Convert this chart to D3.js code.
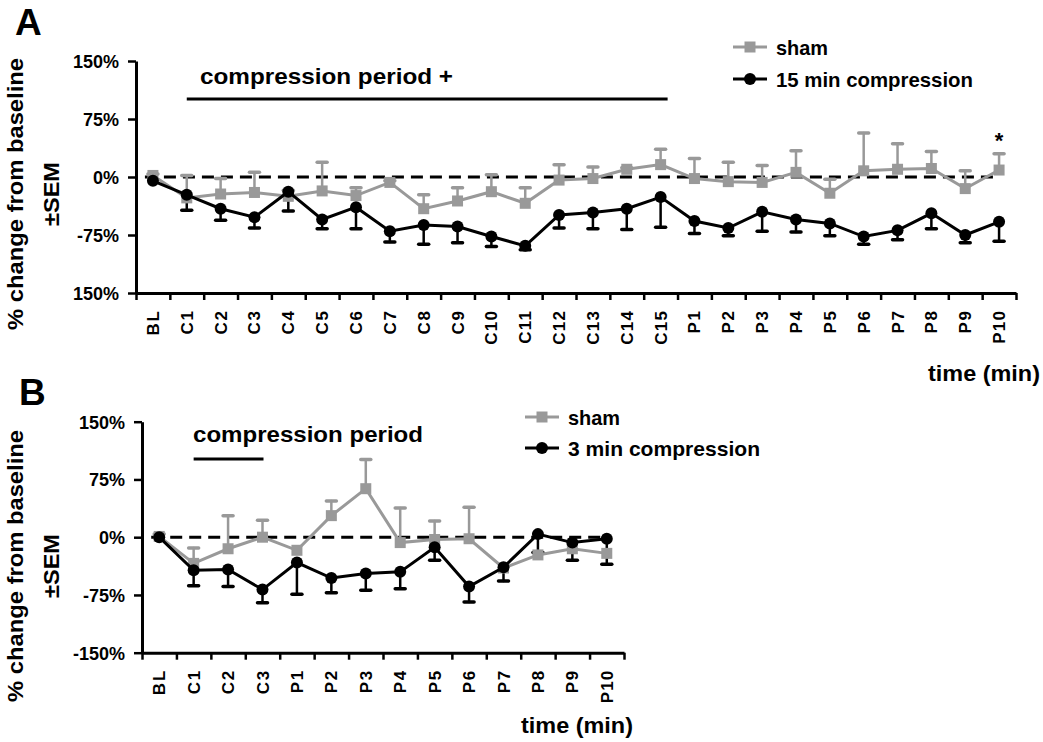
<!DOCTYPE html>
<html>
<head>
<meta charset="utf-8">
<script src="https://cdn.jsdelivr.net/npm/d3@7"></script>
<style>
  body { margin: 0; background: #fff; }
  svg text { font-family: "Liberation Sans", Arial, Helvetica, sans-serif; font-weight: bold; fill: #000; }
</style>
</head>
<body>
<svg id="fig" width="1043" height="742"></svg>
<script>
// ---- Panel A: 15 min compression ----
const categoriesA = ["BL","C1","C2","C3","C4","C5","C6","C7","C8","C9","C10","C11","C12","C13","C14","C15",
                     "P1","P2","P3","P4","P5","P6","P7","P8","P9","P10"];
const shamA     = [2, -27, -22, -20, -25, -18, -24, -7, -41, -31, -19, -34, -4, -2, 10, 16, -2, -6, -7, 6, -21, 8, 10, 11, -15, 9];
const shamSemA  = [2, 29, 20, 26, 8, 37, 10, 2, 18, 17, 22, 20, 20, 15, 2, 20, 26, 25, 22, 28, 18, 49, 33, 22, 23, 21];
const compA     = [-5, -23, -41, -52, -19, -55, -39, -70, -62, -64, -77, -89, -49, -46, -41, -26, -57, -66, -45, -55, -60, -77, -69, -47, -75, -58];
const compSemA  = [0, 20, 15, 14, 25, 12, 28, 14, 25, 21, 13, 5, 17, 21, 27, 39, 16, 10, 25, 16, 16, 10, 12, 20, 10, 25];
const yTickLabelsA = ["150%", "-75%", "0%", "75%", "150%"];

// ---- Panel B: 3 min compression ----
const categoriesB = ["BL","C1","C2","C3","P1","P2","P3","P4","P5","P6","P7","P8","P9","P10"];
const shamB     = [1, -34, -15, 0, -17, 28, 63, -7, -3, -2, -40, -23, -15, -21];
const shamSemB  = [3, 20, 43, 22, 0, 19, 38, 45, 24, 41, 0, 0, 0, 0];
const compB     = [0, -43, -42, -68, -33, -53, -47, -45, -13, -64, -39, 4, -7, -2];
const compSemB  = [0, 20, 22, 17, 41, 19, 22, 22, 17, 20, 18, 24, 23, 33];
const yTickLabelsB = ["-150%", "-75%", "0%", "75%", "150%"];

const yTicks = [-150, -75, 0, 75, 150];
const GRAY = "#999999";

const svg = d3.select("#fig");

function drawPanel(o) {
  const g = svg.append("g");
  const n = o.categories.length;
  const y = d3.scaleLinear().domain([-150, 150]).range([o.bottom, o.top]);
  const xb = d3.scaleBand().domain(o.categories).range([o.left, o.right]);
  const xi = d3.scaleLinear().domain([0, n]).range([o.left, o.right]);
  const xc = c => xb(c) + xb.bandwidth() / 2;

  // zero reference line
  g.append("line")
    .attr("x1", xc(o.categories[0]) - 8).attr("x2", xc(o.categories[n - 1]))
    .attr("y1", y(0)).attr("y2", y(0))
    .attr("stroke", "#000").attr("stroke-width", 3).attr("stroke-dasharray", "12,7");

  // y axis
  const ya = g.append("g").attr("transform", `translate(${o.left},0)`)
    .call(d3.axisLeft(y).tickValues(yTicks).tickFormat((d, i) => o.yLabels[i])
      .tickSize(8).tickPadding(9).tickSizeOuter(0));
  ya.select(".domain").attr("stroke-width", 3);
  ya.selectAll(".tick line").attr("stroke-width", 2.5);
  ya.selectAll(".tick text").attr("font-size", 18).attr("dy", "0.36em")
    .style("font-family", '"Liberation Sans", Arial, sans-serif').style("font-weight", "bold");

  // x axis: ticks on the category boundaries
  const xa = g.append("g").attr("transform", `translate(0,${o.bottom})`)
    .call(d3.axisBottom(xi).tickValues(d3.range(n + 1)).tickFormat("").tickSize(7).tickSizeOuter(0));
  xa.select(".domain").attr("stroke-width", 3);
  xa.selectAll(".tick line").attr("stroke-width", 2.5);

  // x axis: category labels, reading upwards
  const lab = g.append("g");
  o.categories.forEach(c => {
    const t = lab.append("text")
      .attr("transform", `translate(${xc(c) + 6},${o.bottom + 18}) rotate(-90)`)
      .attr("text-anchor", "end")
      .attr("font-size", 17)
      .text(c);
    const len = t.node().getComputedTextLength();
    t.attr("textLength", len * 1.08).attr("lengthAdjust", "spacing");
  });

  const shamPts = o.categories.map((c, i) => ({ c, v: o.sham[i], e: o.shamSem[i] }));
  const compPts = o.categories.map((c, i) => ({ c, v: o.comp[i], e: o.compSem[i] }));

  function errorBars(pts, dir, color) {
    const eg = g.append("g").attr("stroke", color).attr("stroke-linecap", "round");
    pts.filter(p => p.e > 0).forEach(p => {
      const yEnd = y(p.v + dir * p.e);
      eg.append("line").attr("x1", xc(p.c)).attr("x2", xc(p.c))
        .attr("y1", y(p.v)).attr("y2", yEnd).attr("stroke-width", 2.5);
      eg.append("line").attr("x1", xc(p.c) - 5).attr("x2", xc(p.c) + 5)
        .attr("y1", yEnd).attr("y2", yEnd).attr("stroke-width", 3.5);
    });
  }
  errorBars(shamPts, +1, GRAY);
  errorBars(compPts, -1, "#000");

  const line = d3.line().x(p => xc(p.c)).y(p => y(p.v));

  // sham series
  g.append("path").datum(shamPts).attr("d", line)
    .attr("fill", "none").attr("stroke", GRAY).attr("stroke-width", 3);
  g.selectAll(".sq").data(shamPts).join("rect")
    .attr("x", p => xc(p.c) - 5.5).attr("y", p => y(p.v) - 5.5)
    .attr("width", 11).attr("height", 11).attr("fill", GRAY);

  // compression series
  g.append("path").datum(compPts).attr("d", line)
    .attr("fill", "none").attr("stroke", "#000").attr("stroke-width", 3);
  g.selectAll(".dot").data(compPts).join("circle")
    .attr("cx", p => xc(p.c)).attr("cy", p => y(p.v)).attr("r", 6).attr("fill", "#000");

  // compression period bar
  g.append("line")
    .attr("x1", xc(o.periodFrom)).attr("x2", xc(o.periodTo) + o.periodExtra)
    .attr("y1", o.periodY).attr("y2", o.periodY)
    .attr("stroke", "#000").attr("stroke-width", 3);
  g.append("text").attr("x", o.periodTextX).attr("y", o.periodTextY)
    .attr("font-size", 22).attr("textLength", o.periodTextLen).attr("lengthAdjust", "spacingAndGlyphs")
    .text(o.periodText);

  // legend
  const lg = g.append("g").attr("transform", `translate(${o.legendX},${o.legendY})`);
  lg.append("line").attr("x1", 0).attr("x2", 34).attr("y1", 0).attr("y2", 0)
    .attr("stroke", GRAY).attr("stroke-width", 3);
  lg.append("rect").attr("x", 11.5).attr("y", -5.5).attr("width", 11).attr("height", 11).attr("fill", GRAY);
  lg.append("text").attr("x", 43).attr("y", 8).attr("font-size", 21)
    .attr("textLength", 52).attr("lengthAdjust", "spacingAndGlyphs").text("sham");
  lg.append("line").attr("x1", 0).attr("x2", 34).attr("y1", o.legendGap).attr("y2", o.legendGap)
    .attr("stroke", "#000").attr("stroke-width", 3);
  lg.append("circle").attr("cx", 17).attr("cy", o.legendGap).attr("r", 6).attr("fill", "#000");
  lg.append("text").attr("x", 43).attr("y", o.legendGap + 8).attr("font-size", 21)
    .attr("textLength", o.legendTextLen).attr("lengthAdjust", "spacingAndGlyphs").text(o.legendText);

  // y-axis title
  const tg = g.append("g");
  tg.append("text")
    .attr("transform", `translate(${o.titleX1},${o.titleY}) rotate(-90)`)
    .attr("text-anchor", "middle").attr("font-size", 22)
    .attr("textLength", 272).attr("lengthAdjust", "spacingAndGlyphs")
    .text("% change from baseline");
  tg.append("text")
    .attr("transform", `translate(${o.titleX2},${o.titleY}) rotate(-90)`)
    .attr("text-anchor", "middle").attr("font-size", 22)
    .attr("textLength", 64).attr("lengthAdjust", "spacingAndGlyphs")
    .text("±SEM");

  // x-axis title
  g.append("text").attr("x", o.timeX).attr("y", o.timeY).attr("text-anchor", o.timeAnchor)
    .attr("font-size", 22).attr("textLength", 112).attr("lengthAdjust", "spacingAndGlyphs")
    .text("time (min)");

  // panel letter
  g.append("text").attr("x", o.letterX).attr("y", o.letterY).attr("font-size", 37).text(o.letter);

  return { g, xc, y };
}

const A = drawPanel({
  categories: categoriesA, sham: shamA, shamSem: shamSemA, comp: compA, compSem: compSemA,
  yLabels: yTickLabelsA,
  left: 136, right: 1016, top: 61, bottom: 293,
  periodFrom: "C1", periodTo: "C15", periodExtra: 7, periodY: 99,
  periodText: "compression period +", periodTextX: 200, periodTextY: 84, periodTextLen: 253,
  legendX: 733, legendY: 47, legendGap: 32, legendText: "15 min compression", legendTextLen: 197,
  titleX1: 23, titleX2: 59, titleY: 194,
  timeX: 1040, timeY: 381, timeAnchor: "end",
  letter: "A", letterX: 15, letterY: 35
});

// significance marker on the last point of panel A
A.g.append("text")
  .attr("x", A.xc("P10")).attr("y", A.y(shamA[25] + shamSemA[25]) - 6)
  .attr("text-anchor", "middle").attr("font-size", 22).text("*");

drawPanel({
  categories: categoriesB, sham: shamB, shamSem: shamSemB, comp: compB, compSem: compSemB,
  yLabels: yTickLabelsB,
  left: 142, right: 624, top: 421.7, bottom: 652.7,
  periodFrom: "C1", periodTo: "C3", periodExtra: 1, periodY: 459,
  periodText: "compression period", periodTextX: 193, periodTextY: 442, periodTextLen: 230,
  legendX: 525, legendY: 417, legendGap: 31, legendText: "3 min compression", legendTextLen: 192,
  titleX1: 23, titleX2: 59, titleY: 566,
  timeX: 521, timeY: 733, timeAnchor: "start",
  letter: "B", letterX: 19, letterY: 405
});
</script>
</body>
</html>
